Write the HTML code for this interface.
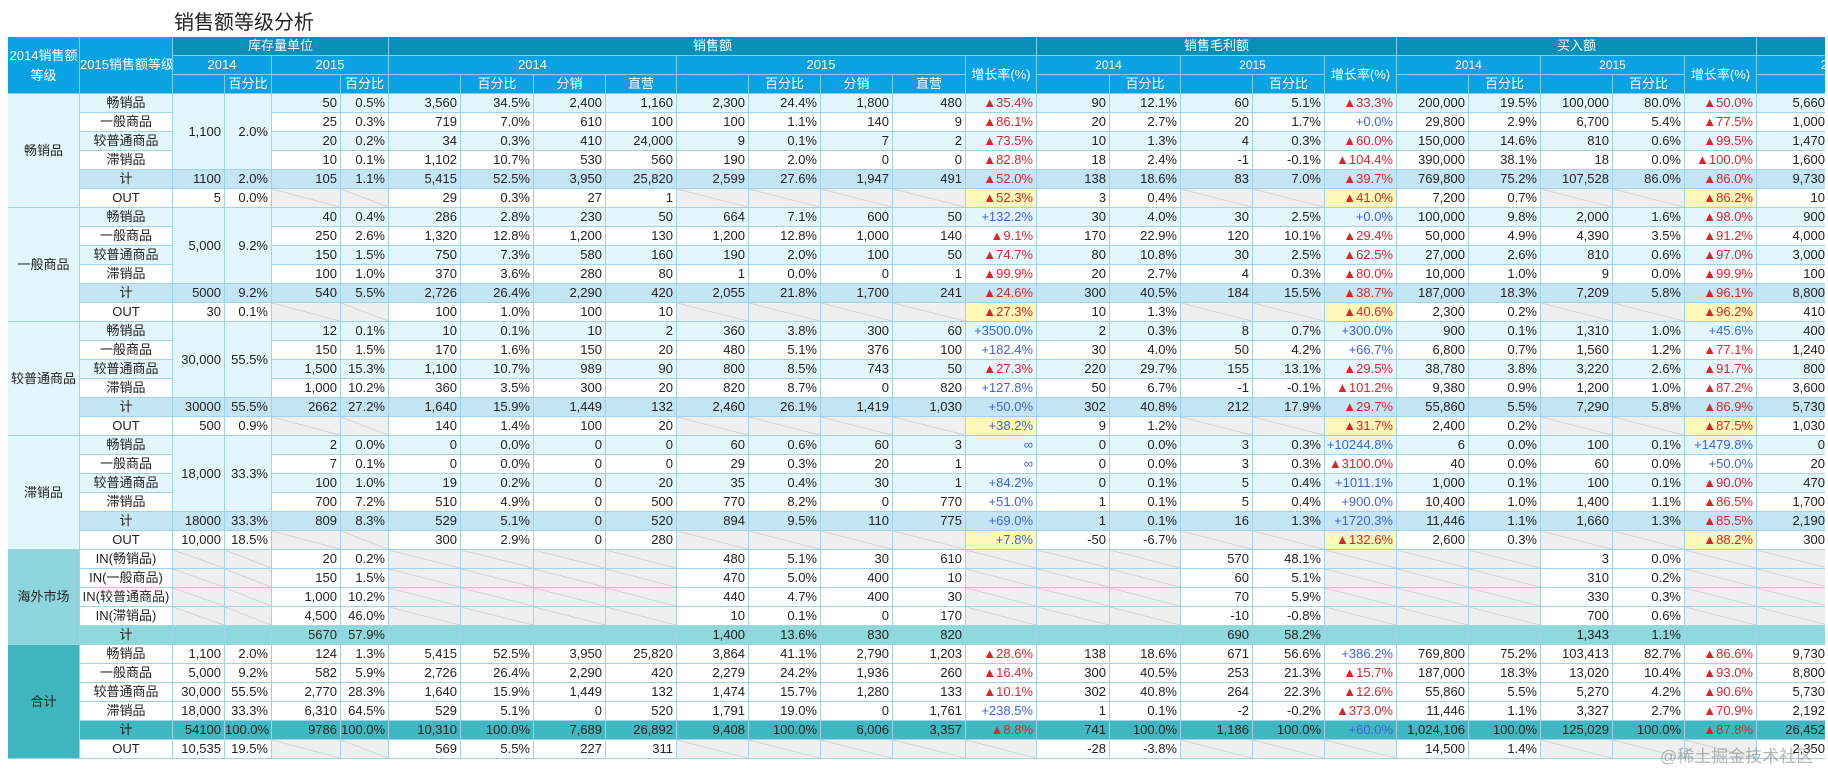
<!DOCTYPE html>
<html><head><meta charset="utf-8">
<style>
body{margin:0;width:1828px;height:769px;overflow:hidden;background:#fff;font-family:"Liberation Sans","Noto Sans CJK SC",sans-serif;}
#title{position:absolute;left:174px;top:6px;font-size:20px;color:#222;}
#wrap{position:absolute;left:0;top:0;width:1825px;height:769px;overflow:hidden;}
.c{position:absolute;box-sizing:border-box;border-right:1px solid #9fd4e8;border-bottom:1px solid #9fd4e8;font-size:13px;line-height:18px;white-space:nowrap;overflow:hidden;color:#222;}
.h{color:#fff;background:#0aa2e2;text-align:center;border-color:#7fd0ee;}
.h1{background:#0a8fb8;}
.n{text-align:right;padding-right:3px;}
.t{text-align:center;}
.hatch{background:#efefef linear-gradient(to top right,transparent calc(50% - 0.7px),#c9c9c9 50%,transparent calc(50% + 0.7px));}
.yel{background:#fff8b8;}
.red{color:#d9262e;}
.blue{color:#3f63d8;}
#wm{position:absolute;left:1660px;top:742px;font-size:17px;color:rgba(120,120,120,0.55);white-space:nowrap;}
</style></head><body>
<div id="title">销售额等级分析</div>
<div id="wrap"></div>
<div id="wm">@稀土掘金技术社区</div>
<script>
const colX=[8,80,173,225,272,341,389,461,534,606,677,749,821,893,966,1037,1110,1181,1253,1325,1397,1469,1541,1613,1685,1757,1829];
const headTop=37, rowH=19, bodyTop=94;
const groups=['畅销品','一般商品','较普通商品','滞销品','海外市场','合计'];
const invMerged=[['1,100','2.0%'],['5,000','9.2%'],['30,000','55.5%'],['18,000','33.3%']];
const rows=[
['畅销品','M','M','50','0.5%','3,560','34.5%','2,400','1,160','2,300','24.4%','1,800','480','▲35.4%','90','12.1%','60','5.1%','▲33.3%','200,000','19.5%','100,000','80.0%','▲50.0%','5,660'],
['一般商品','M','M','25','0.3%','719','7.0%','610','100','100','1.1%','140','9','▲86.1%','20','2.7%','20','1.7%','+0.0%','29,800','2.9%','6,700','5.4%','▲77.5%','1,000'],
['较普通商品','M','M','20','0.2%','34','0.3%','410','24,000','9','0.1%','7','2','▲73.5%','10','1.3%','4','0.3%','▲60.0%','150,000','14.6%','810','0.6%','▲99.5%','1,470'],
['滞销品','M','M','10','0.1%','1,102','10.7%','530','560','190','2.0%','0','0','▲82.8%','18','2.4%','-1','-0.1%','▲104.4%','390,000','38.1%','18','0.0%','▲100.0%','1,600'],
['计','1100','2.0%','105','1.1%','5,415','52.5%','3,950','25,820','2,599','27.6%','1,947','491','▲52.0%','138','18.6%','83','7.0%','▲39.7%','769,800','75.2%','107,528','86.0%','▲86.0%','9,730'],
['OUT','5','0.0%','H','H','29','0.3%','27','1','H','H','H','H','Y▲52.3%','3','0.4%','H','H','Y▲41.0%','7,200','0.7%','H','H','Y▲86.2%','10'],
['畅销品','M','M','40','0.4%','286','2.8%','230','50','664','7.1%','600','50','+132.2%','30','4.0%','30','2.5%','+0.0%','100,000','9.8%','2,000','1.6%','▲98.0%','900'],
['一般商品','M','M','250','2.6%','1,320','12.8%','1,200','130','1,200','12.8%','1,000','140','▲9.1%','170','22.9%','120','10.1%','▲29.4%','50,000','4.9%','4,390','3.5%','▲91.2%','4,000'],
['较普通商品','M','M','150','1.5%','750','7.3%','580','160','190','2.0%','100','50','▲74.7%','80','10.8%','30','2.5%','▲62.5%','27,000','2.6%','810','0.6%','▲97.0%','3,000'],
['滞销品','M','M','100','1.0%','370','3.6%','280','80','1','0.0%','0','1','▲99.9%','20','2.7%','4','0.3%','▲80.0%','10,000','1.0%','9','0.0%','▲99.9%','100'],
['计','5000','9.2%','540','5.5%','2,726','26.4%','2,290','420','2,055','21.8%','1,700','241','▲24.6%','300','40.5%','184','15.5%','▲38.7%','187,000','18.3%','7,209','5.8%','▲96.1%','8,800'],
['OUT','30','0.1%','H','H','100','1.0%','100','10','H','H','H','H','Y▲27.3%','10','1.3%','H','H','Y▲40.6%','2,300','0.2%','H','H','Y▲96.2%','410'],
['畅销品','M','M','12','0.1%','10','0.1%','10','2','360','3.8%','300','60','+3500.0%','2','0.3%','8','0.7%','+300.0%','900','0.1%','1,310','1.0%','+45.6%','400'],
['一般商品','M','M','150','1.5%','170','1.6%','150','20','480','5.1%','376','100','+182.4%','30','4.0%','50','4.2%','+66.7%','6,800','0.7%','1,560','1.2%','▲77.1%','1,240'],
['较普通商品','M','M','1,500','15.3%','1,100','10.7%','989','90','800','8.5%','743','50','▲27.3%','220','29.7%','155','13.1%','▲29.5%','38,780','3.8%','3,220','2.6%','▲91.7%','800'],
['滞销品','M','M','1,000','10.2%','360','3.5%','300','20','820','8.7%','0','820','+127.8%','50','6.7%','-1','-0.1%','▲101.2%','9,380','0.9%','1,200','1.0%','▲87.2%','3,600'],
['计','30000','55.5%','2662','27.2%','1,640','15.9%','1,449','132','2,460','26.1%','1,419','1,030','+50.0%','302','40.8%','212','17.9%','▲29.7%','55,860','5.5%','7,290','5.8%','▲86.9%','5,730'],
['OUT','500','0.9%','H','H','140','1.4%','100','20','H','H','H','H','Y+38.2%','9','1.2%','H','H','Y▲31.7%','2,400','0.2%','H','H','Y▲87.5%','1,030'],
['畅销品','M','M','2','0.0%','0','0.0%','0','0','60','0.6%','60','3','∞','0','0.0%','3','0.3%','+10244.8%','6','0.0%','100','0.1%','+1479.8%','0'],
['一般商品','M','M','7','0.1%','0','0.0%','0','0','29','0.3%','20','1','∞','0','0.0%','3','0.3%','▲3100.0%','40','0.0%','60','0.0%','+50.0%','20'],
['较普通商品','M','M','100','1.0%','19','0.2%','0','20','35','0.4%','30','1','+84.2%','0','0.1%','5','0.4%','+1011.1%','1,000','0.1%','100','0.1%','▲90.0%','470'],
['滞销品','M','M','700','7.2%','510','4.9%','0','500','770','8.2%','0','770','+51.0%','1','0.1%','5','0.4%','+900.0%','10,400','1.0%','1,400','1.1%','▲86.5%','1,700'],
['计','18000','33.3%','809','8.3%','529','5.1%','0','520','894','9.5%','110','775','+69.0%','1','0.1%','16','1.3%','+1720.3%','11,446','1.1%','1,660','1.3%','▲85.5%','2,190'],
['OUT','10,000','18.5%','H','H','300','2.9%','0','280','H','H','H','H','Y+7.8%','-50','-6.7%','H','H','Y▲132.6%','2,600','0.3%','H','H','Y▲88.2%','300'],
['IN(畅销品)','H','H','20','0.2%','H','H','H','H','480','5.1%','30','610','H','H','H','570','48.1%','H','H','H','3','0.0%','H','H'],
['IN(一般商品)','H','H','150','1.5%','H','H','H','H','470','5.0%','400','10','H','H','H','60','5.1%','H','H','H','310','0.2%','H','H'],
['IN(较普通商品)','H','H','1,000','10.2%','H','H','H','H','440','4.7%','400','30','H','H','H','70','5.9%','H','H','H','330','0.3%','H','H'],
['IN(滞销品)','H','H','4,500','46.0%','H','H','H','H','10','0.1%','0','170','H','H','H','-10','-0.8%','H','H','H','700','0.6%','H','H'],
['计','','','5670','57.9%','','','','','1,400','13.6%','830','820','','','','690','58.2%','','','','1,343','1.1%','',''],
['畅销品','1,100','2.0%','124','1.3%','5,415','52.5%','3,950','25,820','3,864','41.1%','2,790','1,203','▲28.6%','138','18.6%','671','56.6%','+386.2%','769,800','75.2%','103,413','82.7%','▲86.6%','9,730'],
['一般商品','5,000','9.2%','582','5.9%','2,726','26.4%','2,290','420','2,279','24.2%','1,936','260','▲16.4%','300','40.5%','253','21.3%','▲15.7%','187,000','18.3%','13,020','10.4%','▲93.0%','8,800'],
['较普通商品','30,000','55.5%','2,770','28.3%','1,640','15.9%','1,449','132','1,474','15.7%','1,280','133','▲10.1%','302','40.8%','264','22.3%','▲12.6%','55,860','5.5%','5,270','4.2%','▲90.6%','5,730'],
['滞销品','18,000','33.3%','6,310','64.5%','529','5.1%','0','520','1,791','19.0%','0','1,761','+238.5%','1','0.1%','-2','-0.2%','▲373.0%','11,446','1.1%','3,327','2.7%','▲70.9%','2,192'],
['计','54100','100.0%','9786','100.0%','10,310','100.0%','7,689','26,892','9,408','100.0%','6,006','3,357','▲8.8%','741','100.0%','1,186','100.0%','+60.0%','1,024,106','100.0%','125,029','100.0%','▲87.8%','26,452'],
['OUT','10,535','19.5%','H','H','569','5.5%','227','311','H','H','H','H','H','-28','-3.8%','H','H','H','14,500','1.4%','H','H','H','2,350']
];
const wrap=document.getElementById('wrap');
function cell(c0,c1,top,rs,txt,cls,bg){
  const d=document.createElement('div');
  d.className='c '+(cls||'');
  d.style.left=colX[c0]+'px';d.style.width=(colX[c1]-colX[c0])+'px';
  d.style.top=top+'px';d.style.height=(rs*rowH)+'px';
  d.style.lineHeight=(rs*rowH-1)+'px';
  if(bg)d.style.background=bg;
  d.textContent=txt;
  
  
  wrap.appendChild(d);return d;
}
// header
const H1=headTop,H2=headTop+rowH,H3=headTop+2*rowH;
let a=cell(0,1,H1,3,'','h');a.innerHTML='<div style="line-height:20px;padding-top:9px">2014销售额<br>等级</div>';
a=cell(1,2,H1,3,'2015销售额等级','h');
[[2,6,'库存量单位'],[6,15,'销售额'],[15,20,'销售毛利额'],[20,25,'买入额'],[25,26,'']].forEach(g=>{const e=cell(g[0],g[1],H1,1,g[2],'h h1');});
[[2,4,'2014'],[4,6,'2015'],[6,10,'2014'],[10,14,'2015'],[15,17,'2014'],[17,19,'2015'],[20,22,'2014'],[22,24,'2015']].forEach(g=>{const e=cell(g[0],g[1],H2,1,g[2],'h');if(g[0]>=15)e.style.fontSize='12px';});
a=cell(25,26,H2,1,'2','h');a.style.textAlign='right';
[14,19,24].forEach(c=>{const e=cell(c,c+1,H2,2,'增长率(%)','h');});
const sub={3:'百分比',5:'百分比',7:'百分比',8:'分销',9:'直营',11:'百分比',12:'分销',13:'直营',16:'百分比',18:'百分比',21:'百分比',23:'百分比'};
for(let c=2;c<26;c++){if(c===14||c===19||c===24)continue;const e=cell(c,c+1,H3,1,sub[c]||'','h');}
// body
const light='#e2f6fc',sumBg='#c4e6f4';
rows.forEach((r,i)=>{
  const g=Math.floor(i<24?i/6:(i<29?4:5));
  const k=i<24?i%6:(i<29?i-24:i-29);
  const top=bodyTop+i*rowH;
  let bg='#fff';
  if(g<4){bg=(k===4)?sumBg:(k===5?'#fff':(k%2===0?light:'#fff'));}
  else if(g===4){bg=k===4?'#8fd9dd':'#fff';}
  else{bg=k===4?'#3fb8c2':'#fff';}
  if(k===0){const n=g<4?6:(g===4?5:6);
    const gc=cell(0,1,top,n,groups[g],'t',g<4?light:(g===4?'#8fd6dc':'#3fb5bf'));
    
    if(g<4){for(let m=0;m<2;m++){const mc=cell(2+m,3+m,top,4,invMerged[g][m],'n',light);}}
  }
  const lc=cell(1,2,top,1,r[0],'t',bg);
  for(let j=1;j<r.length;j++){
    const c=j+1;let v=r[j];if(v==='M')continue;
    let cls='n',cb=bg;
    if(v==='H'){cls+=' hatch';v='';cb=null;}
    else if(v[0]==='Y'){cb='#fff8b8';v=v.slice(1);}
    if(v[0]==='▲')cls+=' red';else if(v[0]==='+'||v==='∞')cls+=' blue';
    const e=cell(c,c+1,top,1,v,cls,cb);
  }
});
</script>
</body></html>
